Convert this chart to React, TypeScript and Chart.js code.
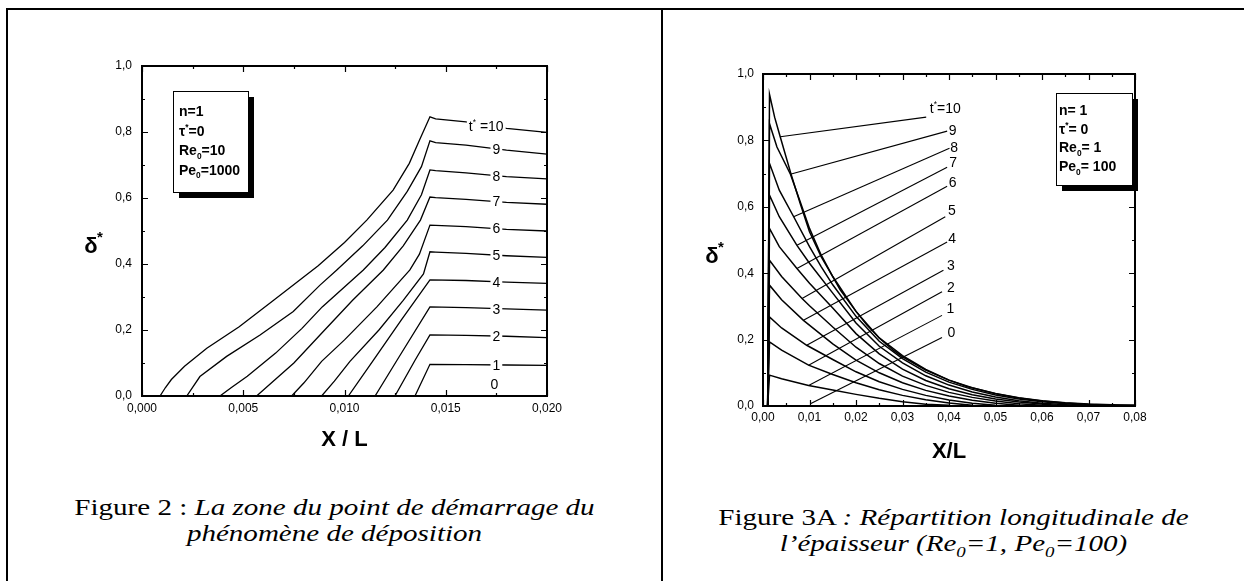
import React, { useEffect, useRef } from "react";
import { Chart, registerables } from "chart.js";

Chart.register(...registerables);

type P = [number, number];

const SANS = '"Liberation Sans", Arial, sans-serif';
const SERIF = '"Liberation Serif", "Times New Roman", serif';

// ---------------- Figure 2 (left) ----------------
const F2_X_TICKS = [0, 0.005, 0.01, 0.015, 0.02];
const F2_X_MINOR = [0.0025, 0.0075, 0.0125, 0.0175];
const F2_Y_TICKS = [0, 0.2, 0.4, 0.6, 0.8, 1.0];
const F2_Y_MINOR = [0.1, 0.3, 0.5, 0.7, 0.9];

const F2_T10: P[] = [[0.00089, 0], [0.00115, 0.025], [0.00145, 0.05], [0.0021, 0.09], [0.0032, 0.145], [0.0048, 0.21], [0.0065, 0.29], [0.0087, 0.395], [0.01, 0.465], [0.0111, 0.533], [0.0124, 0.624], [0.0132, 0.705], [0.0137, 0.775], [0.01422, 0.846], [0.0145, 0.84], [0.016, 0.831], [0.018, 0.811], [0.02, 0.799]];
const F2_T9: P[] = [[0.00221, 0], [0.00286, 0.059], [0.00418, 0.12], [0.00583, 0.185], [0.00747, 0.256], [0.00879, 0.336], [0.00962, 0.382], [0.0109, 0.455], [0.01212, 0.533], [0.0131, 0.62], [0.0138, 0.695], [0.01422, 0.773], [0.0145, 0.768], [0.016, 0.76], [0.018, 0.745], [0.02, 0.733]];
const F2_T8: P[] = [[0.00385, 0], [0.0044, 0.025], [0.0052, 0.06], [0.0066, 0.13], [0.0079, 0.205], [0.0089, 0.27], [0.01093, 0.382], [0.012, 0.45], [0.0131, 0.533], [0.0138, 0.61], [0.01422, 0.685], [0.0145, 0.683], [0.016, 0.676], [0.018, 0.665], [0.02, 0.658]];
const F2_T7: P[] = [[0.00566, 0], [0.0063, 0.035], [0.0075, 0.1], [0.00879, 0.185], [0.0104, 0.29], [0.01192, 0.382], [0.0129, 0.455], [0.01375, 0.533], [0.01422, 0.603], [0.0145, 0.601], [0.016, 0.596], [0.018, 0.587], [0.02, 0.581]];
const F2_T6: P[] = [[0.00739, 0], [0.008, 0.04], [0.00887, 0.105], [0.01, 0.17], [0.0116, 0.27], [0.01323, 0.382], [0.0137, 0.43], [0.01422, 0.518], [0.0145, 0.517], [0.016, 0.513], [0.018, 0.505], [0.02, 0.5]];
const F2_T5: P[] = [[0.00887, 0], [0.0095, 0.045], [0.01027, 0.105], [0.0117, 0.2], [0.0129, 0.29], [0.0139, 0.37], [0.01422, 0.437], [0.0145, 0.436], [0.016, 0.432], [0.018, 0.425], [0.02, 0.42]];
const F2_T4: P[] = [[0.01019, 0], [0.01143, 0.109], [0.0128, 0.23], [0.01422, 0.352], [0.016, 0.35], [0.018, 0.345], [0.02, 0.341]];
const F2_T3: P[] = [[0.01151, 0], [0.0126, 0.109], [0.01422, 0.27], [0.016, 0.268], [0.018, 0.264], [0.02, 0.26]];
const F2_T2: P[] = [[0.01249, 0], [0.01349, 0.109], [0.01422, 0.185], [0.016, 0.184], [0.018, 0.181], [0.02, 0.177]];
const F2_T1: P[] = [[0.01348, 0], [0.01422, 0.096], [0.016, 0.095], [0.018, 0.094], [0.02, 0.093]];
const F2_CURVES = [F2_T10, F2_T9, F2_T8, F2_T7, F2_T6, F2_T5, F2_T4, F2_T3, F2_T2, F2_T1];

const F2_LABELS = ["t^* =10", "9", "8", "7", "6", "5", "4", "3", "2", "1", "0"];
const F2_LABEL_X = [0.017, 0.0175, 0.0175, 0.0175, 0.0175, 0.0175, 0.0175, 0.0175, 0.0175, 0.0175, 0.0174];
const F2_LABEL_Y = [0.818, 0.75, 0.668, 0.59, 0.508, 0.428, 0.347, 0.265, 0.181, 0.094, 0.036];
const F2_INFO = ["n=1", "τ^*=0", "Re_0=10", "Pe_0=1000"];

// ---------------- Figure 3A (right) ----------------
const F3_X_TICKS = [0, 0.01, 0.02, 0.03, 0.04, 0.05, 0.06, 0.07, 0.08];
const F3_X_MINOR = [0.005, 0.015, 0.025, 0.035, 0.045, 0.055, 0.065, 0.075];
const F3_Y_TICKS = [0, 0.2, 0.4, 0.6, 0.8, 1.0];
const F3_Y_MINOR = [0.1, 0.3, 0.5, 0.7, 0.9];

const F3_T10: P[] = [[0.001, 0], [0.0014, 0.939], [0.0025, 0.87], [0.0037, 0.811], [0.006, 0.7], [0.008, 0.61], [0.01, 0.525], [0.0125, 0.45], [0.015, 0.39], [0.0166, 0.35], [0.02, 0.285], [0.0223, 0.245], [0.025, 0.205], [0.028, 0.168], [0.03, 0.148], [0.035, 0.108], [0.04, 0.078], [0.044, 0.058], [0.05, 0.038], [0.055, 0.025], [0.06, 0.016], [0.065, 0.01], [0.07, 0.006], [0.075, 0.004], [0.08, 0.003]];
const F3_T9: P[] = [[0.001, 0], [0.0014, 0.85], [0.003, 0.78], [0.0059, 0.698], [0.008, 0.615], [0.01, 0.535], [0.0125, 0.455], [0.015, 0.39], [0.02, 0.285], [0.025, 0.205], [0.03, 0.152], [0.035, 0.11], [0.04, 0.078], [0.045, 0.055], [0.05, 0.037], [0.055, 0.024], [0.06, 0.015], [0.065, 0.009], [0.073, 0.002]];
const F3_T8: P[] = [[0.001, 0], [0.0014, 0.731], [0.0035, 0.65], [0.0066, 0.57], [0.01, 0.48], [0.0125, 0.42], [0.015, 0.365], [0.02, 0.27], [0.025, 0.195], [0.03, 0.143], [0.035, 0.102], [0.04, 0.072], [0.045, 0.05], [0.05, 0.033], [0.055, 0.021], [0.06, 0.013], [0.065, 0.007], [0.07, 0.002]];
const F3_T7: P[] = [[0.001, 0], [0.0014, 0.635], [0.0035, 0.57], [0.0073, 0.484], [0.01, 0.43], [0.015, 0.34], [0.02, 0.25], [0.025, 0.18], [0.03, 0.13], [0.035, 0.091], [0.04, 0.063], [0.045, 0.042], [0.05, 0.027], [0.055, 0.016], [0.06, 0.008], [0.067, 0.002]];
const F3_T6: P[] = [[0.001, 0], [0.0014, 0.535], [0.0035, 0.48], [0.0073, 0.414], [0.01, 0.37], [0.015, 0.295], [0.02, 0.218], [0.025, 0.157], [0.03, 0.111], [0.035, 0.077], [0.04, 0.052], [0.045, 0.034], [0.05, 0.021], [0.055, 0.012], [0.063, 0.002]];
const F3_T5: P[] = [[0.001, 0], [0.0014, 0.439], [0.004, 0.39], [0.0084, 0.324], [0.01, 0.302], [0.015, 0.238], [0.02, 0.177], [0.025, 0.128], [0.03, 0.09], [0.035, 0.062], [0.04, 0.041], [0.045, 0.026], [0.05, 0.015], [0.055, 0.007], [0.06, 0.002]];
const F3_T4: P[] = [[0.001, 0], [0.0014, 0.364], [0.004, 0.32], [0.0087, 0.258], [0.015, 0.187], [0.02, 0.138], [0.025, 0.1], [0.03, 0.07], [0.035, 0.047], [0.04, 0.03], [0.045, 0.017], [0.05, 0.008], [0.055, 0.002]];
const F3_T3: P[] = [[0.001, 0], [0.0014, 0.268], [0.004, 0.235], [0.0094, 0.183], [0.015, 0.14], [0.02, 0.103], [0.025, 0.073], [0.03, 0.05], [0.035, 0.032], [0.04, 0.018], [0.045, 0.008], [0.05, 0.002]];
const F3_T2: P[] = [[0.001, 0], [0.0014, 0.193], [0.004, 0.168], [0.0098, 0.123], [0.015, 0.095], [0.02, 0.07], [0.025, 0.049], [0.03, 0.032], [0.035, 0.019], [0.04, 0.009], [0.045, 0.002]];
const F3_T1: P[] = [[0.001, 0], [0.0014, 0.093], [0.004, 0.082], [0.0098, 0.062], [0.015, 0.048], [0.02, 0.035], [0.025, 0.023], [0.03, 0.013], [0.035, 0.005], [0.04, 0.002]];
const F3_CURVES = [F3_T10, F3_T9, F3_T8, F3_T7, F3_T6, F3_T5, F3_T4, F3_T3, F3_T2, F3_T1];

const F3_LEADER_FROM: P[] = [[0.00372, 0.811], [0.00587, 0.698], [0.00658, 0.57], [0.0073, 0.484], [0.0073, 0.414], [0.0084, 0.324], [0.0087, 0.258], [0.0094, 0.183], [0.0098, 0.123], [0.0098, 0.062], [0.0102, 0.007]];
const F3_LEADER_TO: P[] = [[0.0351, 0.87], [0.0396, 0.828], [0.0401, 0.776], [0.0396, 0.719], [0.0396, 0.662], [0.0392, 0.57], [0.0396, 0.494], [0.0388, 0.409], [0.0385, 0.344], [0.0385, 0.273], [0.0385, 0.206]];
const F3_LABELS = ["t^*=10", "9", "8", "7", "6", "5", "4", "3", "2", "1", "0"];
const F3_LABEL_X = [0.0392, 0.0408, 0.0411, 0.0409, 0.0408, 0.0406, 0.0407, 0.0404, 0.0404, 0.0403, 0.0405];
const F3_LABEL_Y = [0.897, 0.831, 0.779, 0.736, 0.675, 0.59, 0.505, 0.424, 0.359, 0.294, 0.223];
const F3_INFO = ["n= 1", "τ^*= 0", "Re_0= 1", "Pe_0= 100"];

// ---------------- helpers ----------------
function parseRich(t: string) {
  const out: { s: string; m: number }[] = [];
  let i = 0;
  while (i < t.length) {
    const c = t[i];
    if ((c === "^" || c === "_") && i + 1 < t.length) {
      out.push({ s: t[i + 1], m: c === "^" ? 1 : 2 });
      i += 2;
    } else {
      const last = out[out.length - 1];
      if (last && last.m === 0) last.s += c;
      else out.push({ s: c, m: 0 });
      i++;
    }
  }
  return out;
}

function drawRich(ctx: CanvasRenderingContext2D, t: string, x: number, y: number, size: number, weight: string, align: "left" | "center") {
  const segs = parseRich(t);
  const font = (sz: number) => `${weight} ${sz}px ${SANS}`;
  let w = 0;
  for (const g of segs) {
    ctx.font = font(g.m ? size * 0.6 : size);
    w += ctx.measureText(g.s).width;
  }
  let cx = align === "center" ? x - w / 2 : x;
  ctx.textAlign = "left";
  ctx.textBaseline = "alphabetic";
  for (const g of segs) {
    const sz = g.m ? size * 0.6 : size;
    ctx.font = font(sz);
    const dy = g.m === 1 ? -size * 0.42 : g.m === 2 ? size * 0.25 : 0;
    ctx.fillText(g.s, cx, y + dy);
    cx += ctx.measureText(g.s).width;
  }
  return w;
}

function richWidth(ctx: CanvasRenderingContext2D, t: string, size: number, weight: string) {
  let w = 0;
  for (const g of parseRich(t)) {
    ctx.font = `${weight} ${g.m ? size * 0.6 : size}px ${SANS}`;
    w += ctx.measureText(g.s).width;
  }
  return w;
}

const fmt = (d: number) => (v: any) => Number(v).toFixed(d).replace(".", ",");

type DecorOpts = {
  xMajor: number[]; xMinor: number[]; yMajor: number[]; yMinor: number[];
  info: string[]; box: { dx: number; dy: number; w: number; h: number; tx: number; ty: number; lh: number; size: number };
  labels: string[]; labelX: number[]; labelY: number[]; labelBg: boolean; labelSize: number;
  xTitle: string; xTitleDy: number; yTitleDx: number; yTitleDy: number;
};

function makeDecor(o: DecorOpts) {
  return {
    id: "decor",
    afterDatasetsDraw(chart: any) {
      const { ctx, chartArea: a, scales } = chart;
      const xs = scales.x, ys = scales.y;
      ctx.save();
      // curve labels
      ctx.fillStyle = "#000";
      o.labels.forEach((lab, i) => {
        const px = xs.getPixelForValue(o.labelX[i]);
        const py = ys.getPixelForValue(o.labelY[i]);
        const w = richWidth(ctx, lab, o.labelSize, "normal");
        if (o.labelBg) {
          ctx.fillStyle = "#fff";
          ctx.fillRect(px - w / 2 - 2, py - o.labelSize * 0.5, w + 4, o.labelSize * 1.0);
          ctx.fillStyle = "#000";
        }
        drawRich(ctx, lab, px, py + o.labelSize * 0.36, o.labelSize, "normal", "center");
      });
      // frame
      ctx.strokeStyle = "#000";
      ctx.lineWidth = 2;
      ctx.strokeRect(a.left, a.top, a.right - a.left, a.bottom - a.top);
      // ticks (inward, on all four sides)
      ctx.lineWidth = 1.2;
      const xtick = (vals: number[], len: number) => {
        vals.forEach((v) => {
          const px = Math.round(xs.getPixelForValue(v)) + 0.5;
          ctx.beginPath();
          ctx.moveTo(px, a.bottom); ctx.lineTo(px, a.bottom - len);
          ctx.moveTo(px, a.top); ctx.lineTo(px, a.top + len);
          ctx.stroke();
        });
      };
      const ytick = (vals: number[], len: number) => {
        vals.forEach((v) => {
          const py = Math.round(ys.getPixelForValue(v)) + 0.5;
          ctx.beginPath();
          ctx.moveTo(a.left, py); ctx.lineTo(a.left + len, py);
          ctx.moveTo(a.right, py); ctx.lineTo(a.right - len, py);
          ctx.stroke();
        });
      };
      xtick(o.xMajor, 6); xtick(o.xMinor, 3);
      ytick(o.yMajor, 6); ytick(o.yMinor, 3);
      // info box with shadow
      const b = o.box;
      const bx = a.left + b.dx, by = a.top + b.dy;
      ctx.fillStyle = "#000";
      ctx.fillRect(bx + 6, by + 6, b.w, b.h);
      ctx.fillStyle = "#fff";
      ctx.fillRect(bx, by, b.w, b.h);
      ctx.lineWidth = 1;
      ctx.strokeRect(bx + 0.5, by + 0.5, b.w, b.h);
      ctx.fillStyle = "#000";
      o.info.forEach((line, i) => {
        drawRich(ctx, line, bx + b.tx, by + b.ty + i * b.lh, b.size, "bold", "left");
      });
      // axis titles
      ctx.font = `bold 22px ${SANS}`;
      ctx.textAlign = "center";
      ctx.textBaseline = "middle";
      ctx.fillText(o.xTitle, (a.left + a.right) / 2, a.bottom + o.xTitleDy);
      const tx = a.left + o.yTitleDx, ty = (a.top + a.bottom) / 2 + o.yTitleDy;
      ctx.fillText("δ", tx, ty);
      ctx.font = `bold 15px ${SANS}`;
      ctx.fillText("*", tx + 9, ty - 9);
      ctx.restore();
    },
  };
}

function baseScales(xMin: number, xMax: number, xTicks: number[], yTicks: number[], xDec: number, yWidth: number, xHeight: number, xPad: number, yPad: number) {
  return {
    x: {
      type: "linear", min: xMin, max: xMax,
      afterBuildTicks: (s: any) => { s.ticks = xTicks.map((v) => ({ value: v })); },
      afterFit: (s: any) => { s.height = xHeight; },
      ticks: { callback: fmt(xDec), color: "#000", font: { size: 12, family: SANS }, padding: xPad, maxRotation: 0, autoSkip: false },
      grid: { display: false, drawTicks: false, tickLength: 0 },
      border: { display: false },
    },
    y: {
      type: "linear", min: 0, max: 1,
      afterBuildTicks: (s: any) => { s.ticks = yTicks.map((v) => ({ value: v })); },
      afterFit: (s: any) => { s.width = yWidth; },
      ticks: { callback: fmt(1), color: "#000", font: { size: 12, family: SANS }, padding: yPad, autoSkip: false },
      grid: { display: false, drawTicks: false, tickLength: 0 },
      border: { display: false },
    },
  };
}

function ChartCanvas({ left, top, width, height, make }: { left: number; top: number; width: number; height: number; make: () => any }) {
  const ref = useRef<HTMLCanvasElement>(null);
  useEffect(() => {
    const chart = new Chart(ref.current as HTMLCanvasElement, make());
    return () => chart.destroy();
  }, []);
  return (
    <div style={{ position: "absolute", left, top, width, height }}>
      <canvas ref={ref} width={width} height={height} style={{ width, height, display: "block" }} />
    </div>
  );
}

function makeFig2() {
  const datasets = F2_CURVES.map((pts) => ({
    data: pts.map(([x, y]) => ({ x, y })),
    borderColor: "#000", borderWidth: 1.3, pointRadius: 0, tension: 0, fill: false,
  }));
  return {
    type: "line",
    data: { datasets },
    options: {
      animation: false, responsive: false, devicePixelRatio: 1,
      layout: { padding: { left: 0, top: 36, right: 53, bottom: 0 } },
      plugins: { legend: { display: false }, tooltip: { enabled: false } },
      scales: baseScales(0, 0.02, F2_X_TICKS, F2_Y_TICKS, 3, 102, 74, 5, 10),
    },
    plugins: [makeDecor({
      xMajor: F2_X_TICKS, xMinor: F2_X_MINOR, yMajor: F2_Y_TICKS, yMinor: F2_Y_MINOR,
      info: F2_INFO, box: { dx: 31, dy: 25, w: 75, h: 101, tx: 6, ty: 25, lh: 19.5, size: 14 },
      labels: F2_LABELS, labelX: F2_LABEL_X, labelY: F2_LABEL_Y, labelBg: true, labelSize: 14,
      xTitle: "X / L", xTitleDy: 44, yTitleDx: -51, yTitleDy: 16,
    })],
  };
}

function makeFig3() {
  const curves = F3_CURVES.map((pts) => ({
    data: pts.map(([x, y]) => ({ x, y })),
    borderColor: "#000", borderWidth: 1.5, pointRadius: 0, tension: 0, fill: false,
  }));
  const leaders = F3_LEADER_FROM.map((p, i) => ({
    data: [{ x: p[0], y: p[1] }, { x: F3_LEADER_TO[i][0], y: F3_LEADER_TO[i][1] }],
    borderColor: "#000", borderWidth: 1.1, pointRadius: 0, tension: 0, fill: false,
  }));
  return {
    type: "line",
    data: { datasets: [...curves, ...leaders] },
    options: {
      animation: false, responsive: false, devicePixelRatio: 1,
      layout: { padding: { left: 0, top: 34, right: 65, bottom: 0 } },
      plugins: { legend: { display: false }, tooltip: { enabled: false } },
      scales: baseScales(0, 0.08, F3_X_TICKS, F3_Y_TICKS, 2, 83, 74, 4, 9),
    },
    plugins: [makeDecor({
      xMajor: F3_X_TICKS, xMinor: F3_X_MINOR, yMajor: F3_Y_TICKS, yMinor: F3_Y_MINOR,
      info: F3_INFO, box: { dx: 293, dy: 19, w: 76, h: 92, tx: 3, ty: 22, lh: 18.7, size: 14 },
      labels: F3_LABELS, labelX: F3_LABEL_X, labelY: F3_LABEL_Y, labelBg: false, labelSize: 14,
      xTitle: "X/L", xTitleDy: 46, yTitleDx: -51, yTitleDy: 17,
    })],
  };
}

const capStyle: React.CSSProperties = {
  position: "absolute", textAlign: "center", fontFamily: SERIF, fontSize: 24, lineHeight: "26px", color: "#000",
  whiteSpace: "nowrap", transform: "scaleX(1.21)", transformOrigin: "50% 50%",
};
const subStyle: React.CSSProperties = { fontSize: "0.65em", lineHeight: 0 };

export default function App() {
  useEffect(() => {
    document.body.style.margin = "0";
    document.body.style.background = "#fff";
  }, []);
  return (
    <div style={{ position: "fixed", left: 0, top: 0, width: 1244, height: 581, background: "#fff", overflow: "hidden" }}>
      <div style={{ position: "absolute", left: 6, top: 8, width: 1238, height: 2, background: "#000" }} />
      <div style={{ position: "absolute", left: 6, top: 8, width: 2, height: 573, background: "#000" }} />
      <div style={{ position: "absolute", left: 661, top: 8, width: 2, height: 573, background: "#000" }} />
      <ChartCanvas left={40} top={30} width={560} height={440} make={makeFig2} />
      <ChartCanvas left={680} top={40} width={520} height={440} make={makeFig3} />
      <div style={{ ...capStyle, left: 8, width: 653, top: 494 }}>
        Figure 2 : <i>La zone du point de démarrage du</i>
        <br />
        <i>phénomène de déposition</i>
      </div>
      <div style={{ ...capStyle, left: 663, width: 581, top: 504 }}>
        Figure 3A <i>: Répartition longitudinale de</i>
        <br />
        <i>
          l’épaisseur (Re<sub style={subStyle}>0</sub>=1, Pe<sub style={subStyle}>0</sub>=100)
        </i>
      </div>
    </div>
  );
}
